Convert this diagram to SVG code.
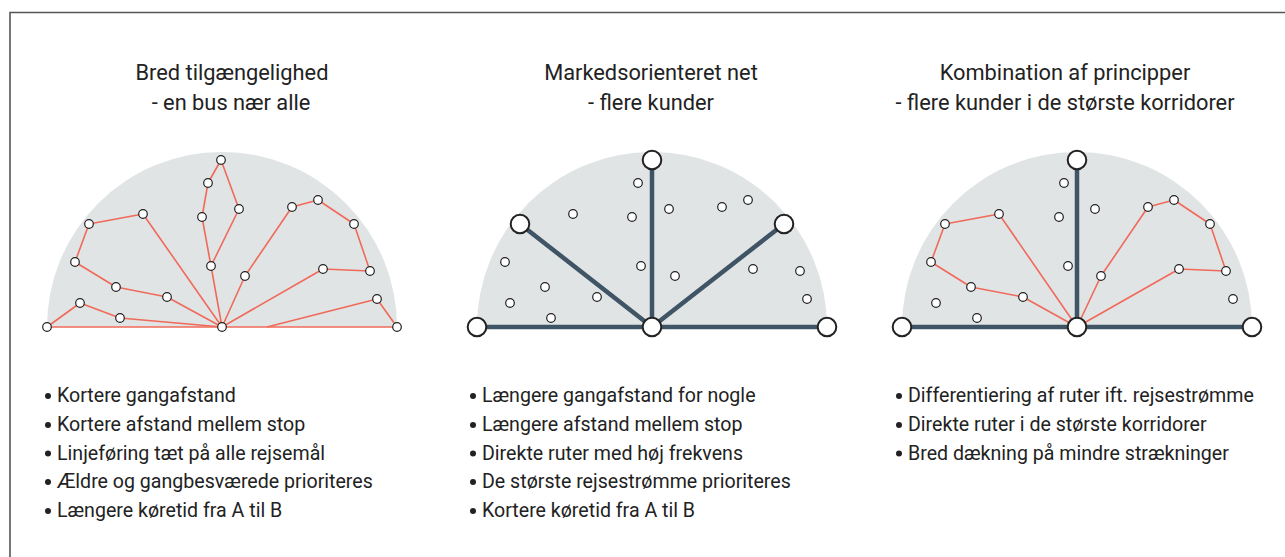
<svg xmlns="http://www.w3.org/2000/svg" width="1285" height="557" viewBox="0 0 1285 557">
<style>
.bg{fill:#e1e4e5}
.red{fill:none;stroke:#f06a5a;stroke-width:1.6;stroke-linejoin:round}
.dk{fill:none;stroke:#3f5465;stroke-width:4.5;stroke-linecap:round}
.s{fill:#fff;stroke:#222;stroke-width:1.2}
.b{fill:#fff;stroke:#222;stroke-width:2}
.t{font-family:Roboto,"Liberation Sans",sans-serif;font-size:21.8px;fill:#222;text-anchor:middle}
.l{font-family:Roboto,"Liberation Sans",sans-serif;font-size:19.6px;fill:#222}
.dot{fill:#222}
</style>
<rect width="1285" height="557" fill="#fff"/>
<path d="M10,557 V12.5 H1285" fill="none" stroke="#555" stroke-width="1.6"/>

<!-- Panel 1 -->
<g id="panel1" transform="translate(222,0)">
  <path class="bg" d="M-175,327 A175,175 0 0 1 175,327 Z"/>
  <g id="connectors1">
    <path class="red" d="M-175,327 H175"/>
    <path class="red" d="M-175,327 L-142,303 L-102,318 L0,327"/>
    <path class="red" d="M0,327 L-55,297 L-106,287 L-147,262 L-133,224 L-79,214 L0,327"/>
    <path class="red" d="M0,327 L-11,266 L-20,217 L-14,183 L-1,160 L17,209 L-11,266"/>
    <path class="red" d="M0,327 L23,276 L70,207 L96,200 L132,224 L148,271 L101,269 L0,327"/>
    <path class="red" d="M45,327 L155,299 L175,327"/>
  </g>
  <g id="nodes1">
    <circle class="s" cx="-175" cy="327" r="4.3"/>
    <circle class="s" cx="175" cy="327" r="4.3"/>
    <circle class="s" cx="0" cy="327" r="4.3"/>
    <circle class="s" cx="-142" cy="303" r="4.3"/>
    <circle class="s" cx="-102" cy="318" r="4.3"/>
    <circle class="s" cx="-147" cy="262" r="4.3"/>
    <circle class="s" cx="-106" cy="287" r="4.3"/>
    <circle class="s" cx="-55" cy="297" r="4.3"/>
    <circle class="s" cx="-133" cy="224" r="4.3"/>
    <circle class="s" cx="-79" cy="214" r="4.3"/>
    <circle class="s" cx="-20" cy="217" r="4.3"/>
    <circle class="s" cx="-14" cy="183" r="4.3"/>
    <circle class="s" cx="-1" cy="160" r="4.3"/>
    <circle class="s" cx="17" cy="209" r="4.3"/>
    <circle class="s" cx="-11" cy="266" r="4.3"/>
    <circle class="s" cx="23" cy="276" r="4.3"/>
    <circle class="s" cx="70" cy="207" r="4.3"/>
    <circle class="s" cx="96" cy="200" r="4.3"/>
    <circle class="s" cx="132" cy="224" r="4.3"/>
    <circle class="s" cx="148" cy="271" r="4.3"/>
    <circle class="s" cx="101" cy="269" r="4.3"/>
    <circle class="s" cx="155" cy="299" r="4.3"/>
  </g>
</g>

<!-- Panel 2 -->
<g id="panel2" transform="translate(652,0)">
  <path class="bg" d="M-175,327 A175,175 0 0 1 175,327 Z"/>
  <g id="connectors2">
    <path class="dk" d="M-175,327 H175"/>
    <path class="dk" d="M0,327 V160"/>
    <path class="dk" d="M0,327 L-132,224"/>
    <path class="dk" d="M0,327 L132,224"/>
  </g>
  <g id="nodes2">
    <circle class="s" cx="-142" cy="303" r="4.3"/>
    <circle class="s" cx="-101" cy="318" r="4.3"/>
    <circle class="s" cx="-147" cy="262" r="4.3"/>
    <circle class="s" cx="-107" cy="287" r="4.3"/>
    <circle class="s" cx="-55" cy="297" r="4.3"/>
    <circle class="s" cx="-79" cy="214" r="4.3"/>
    <circle class="s" cx="-20" cy="217" r="4.3"/>
    <circle class="s" cx="-14" cy="183" r="4.3"/>
    <circle class="s" cx="17" cy="209" r="4.3"/>
    <circle class="s" cx="-11" cy="266" r="4.3"/>
    <circle class="s" cx="23" cy="276" r="4.3"/>
    <circle class="s" cx="70" cy="207" r="4.3"/>
    <circle class="s" cx="96" cy="200" r="4.3"/>
    <circle class="s" cx="148" cy="271" r="4.3"/>
    <circle class="s" cx="101" cy="269" r="4.3"/>
    <circle class="s" cx="155" cy="299" r="4.3"/>
    <circle class="b" cx="-175" cy="327" r="9.3"/>
    <circle class="b" cx="175" cy="327" r="9.3"/>
    <circle class="b" cx="0" cy="327" r="9.3"/>
    <circle class="b" cx="0" cy="160" r="9.3"/>
    <circle class="b" cx="-132" cy="224" r="9.3"/>
    <circle class="b" cx="132" cy="224" r="9.3"/>
  </g>
</g>

<!-- Panel 3 -->
<g id="panel3" transform="translate(1077,0)">
  <path class="bg" d="M-175,327 A175,175 0 0 1 175,327 Z"/>
  <g id="connectors3">
    <path class="red" d="M0,327 L-54,297 L-106,287 L-146,262 L-132,224 L-78,214 L0,327"/>
    <path class="red" d="M0,327 L24,276 L71,207 L97,200 L133,224 L149,271 L102,269 L0,327"/>
    <path class="dk" d="M-175,327 H175"/>
    <path class="dk" d="M0,327 V160"/>
  </g>
  <g id="nodes3">
    <circle class="s" cx="-141" cy="303" r="4.3"/>
    <circle class="s" cx="-100" cy="318" r="4.3"/>
    <circle class="s" cx="-146" cy="262" r="4.3"/>
    <circle class="s" cx="-106" cy="287" r="4.3"/>
    <circle class="s" cx="-54" cy="297" r="4.3"/>
    <circle class="s" cx="-132" cy="224" r="4.3"/>
    <circle class="s" cx="-78" cy="214" r="4.3"/>
    <circle class="s" cx="-18" cy="217" r="4.3"/>
    <circle class="s" cx="-13" cy="183" r="4.3"/>
    <circle class="s" cx="18" cy="209" r="4.3"/>
    <circle class="s" cx="-9" cy="266" r="4.3"/>
    <circle class="s" cx="24" cy="276" r="4.3"/>
    <circle class="s" cx="71" cy="207" r="4.3"/>
    <circle class="s" cx="97" cy="200" r="4.3"/>
    <circle class="s" cx="133" cy="224" r="4.3"/>
    <circle class="s" cx="149" cy="271" r="4.3"/>
    <circle class="s" cx="102" cy="269" r="4.3"/>
    <circle class="s" cx="156" cy="299" r="4.3"/>
    <circle class="b" cx="-175" cy="327" r="9.3"/>
    <circle class="b" cx="175" cy="327" r="9.3"/>
    <circle class="b" cx="0" cy="327" r="9.3"/>
    <circle class="b" cx="0" cy="160" r="9.3"/>
  </g>
</g>

<!-- Titles -->
<g id="titles">
  <text class="t" x="232" y="80">Bred tilgængelighed</text>
  <text class="t" x="231" y="110">- en bus nær alle</text>
  <text class="t" x="651" y="80">Markedsorienteret net</text>
  <text class="t" x="651" y="110">- flere kunder</text>
  <text class="t" x="1065" y="80">Kombination af principper</text>
  <text class="t" x="1065" y="110">- flere kunder i de største korridorer</text>
</g>

<!-- Bullet lists -->
<g id="list1">
  <circle class="dot" cx="48" cy="396" r="3"/>
  <circle class="dot" cx="48" cy="425" r="3"/>
  <circle class="dot" cx="48" cy="453.5" r="3"/>
  <circle class="dot" cx="48" cy="482" r="3"/>
  <circle class="dot" cx="48" cy="511" r="3"/>
  <text class="l" x="57" y="402">Kortere gangafstand</text>
  <text class="l" x="57" y="431">Kortere afstand mellem stop</text>
  <text class="l" x="57" y="459.5">Linjeføring tæt på alle rejsemål</text>
  <text class="l" x="57" y="488">Ældre og gangbesværede prioriteres</text>
  <text class="l" x="57" y="517">Længere køretid fra A til B</text>
</g>
<g id="list2">
  <circle class="dot" cx="473" cy="396" r="3"/>
  <circle class="dot" cx="473" cy="425" r="3"/>
  <circle class="dot" cx="473" cy="453.5" r="3"/>
  <circle class="dot" cx="473" cy="482" r="3"/>
  <circle class="dot" cx="473" cy="511" r="3"/>
  <text class="l" x="482" y="402">Længere gangafstand for nogle</text>
  <text class="l" x="482" y="431">Længere afstand mellem stop</text>
  <text class="l" x="482" y="459.5">Direkte ruter med høj frekvens</text>
  <text class="l" x="482" y="488">De største rejsestrømme prioriteres</text>
  <text class="l" x="482" y="517">Kortere køretid fra A til B</text>
</g>
<g id="list3">
  <circle class="dot" cx="899" cy="396" r="3"/>
  <circle class="dot" cx="899" cy="425" r="3"/>
  <circle class="dot" cx="899" cy="453.5" r="3"/>
  <text class="l" x="908" y="402">Differentiering af ruter ift. rejsestrømme</text>
  <text class="l" x="908" y="431">Direkte ruter i de største korridorer</text>
  <text class="l" x="908" y="459.5">Bred dækning på mindre strækninger</text>
</g>
</svg>
